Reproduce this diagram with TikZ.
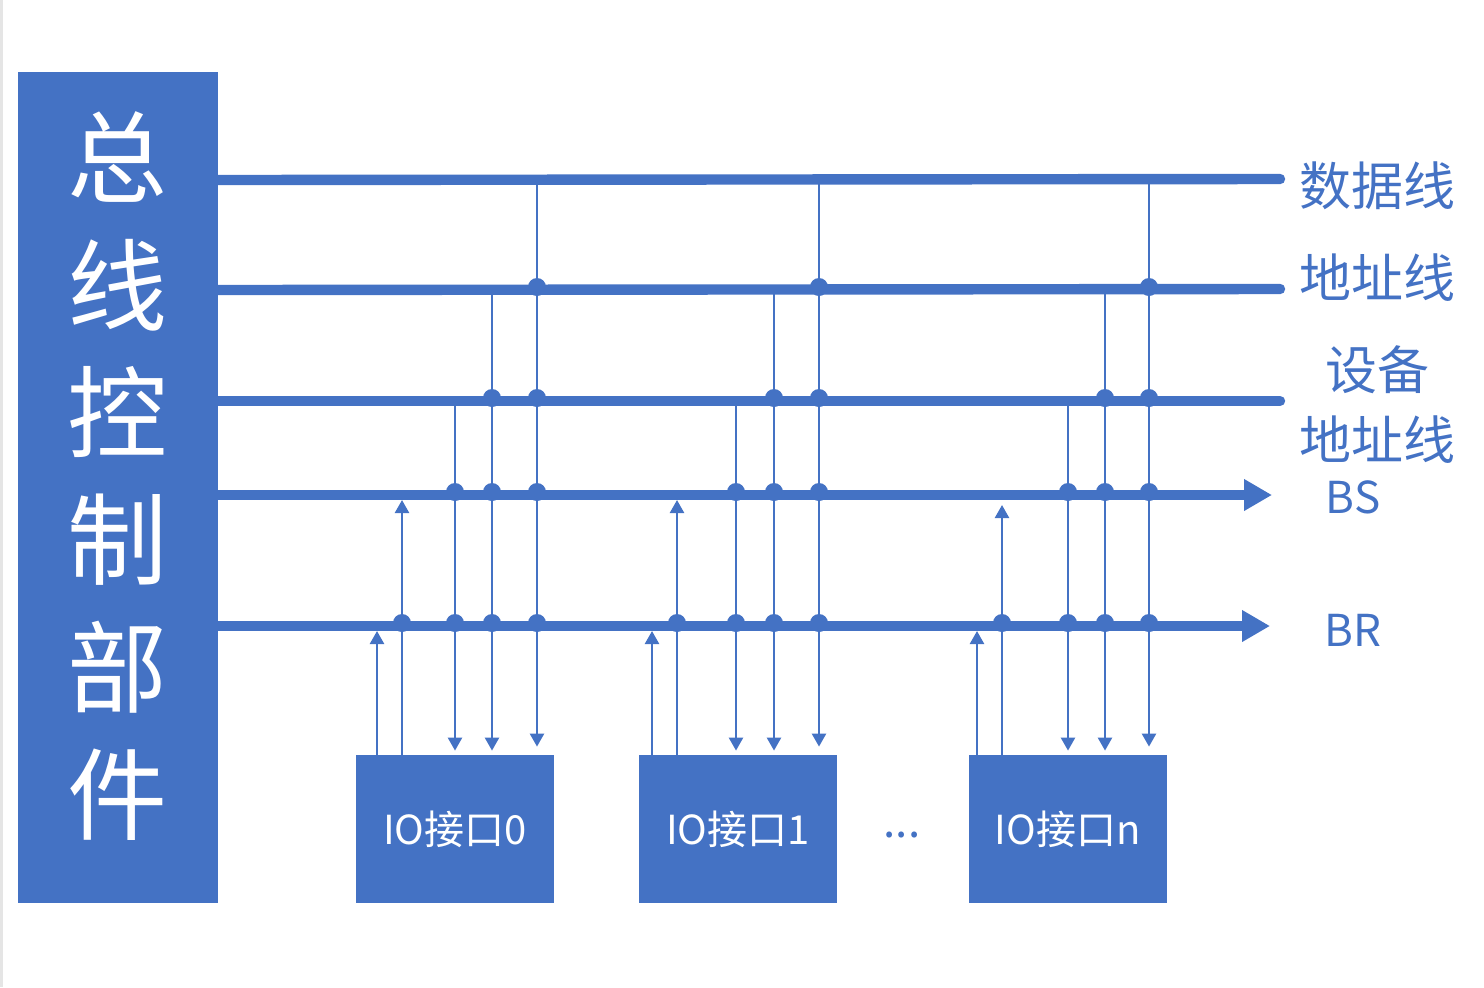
\documentclass[tikz,border=0pt]{standalone}
\usepackage{fontspec}
\setmainfont{Noto Sans CJK SC}
\usetikzlibrary{arrows.meta,calc}
\definecolor{ablue}{HTML}{4472C4}
\begin{document}
\begin{tikzpicture}[x=0.5pt,y=-0.5pt,
  bus/.style={ablue,line width=5.2pt},
  sig/.style={ablue,line width=1.2pt},
  tipd/.style={-{Triangle[length=6.5pt,width=7pt]}},
  jdot/.style={fill=ablue},
  iobox/.style={fill=ablue,draw=none,minimum width=99pt,minimum height=74pt,inner sep=0pt,text=white,font=\fontsize{20}{22}\selectfont},
  lbl/.style={text=ablue,font=\fontsize{26}{28}\selectfont,inner sep=0pt},
  lat/.style={text=ablue,font=\fontsize{22}{24}\selectfont,inner sep=0pt},
  big/.style={text=white,font=\fontsize{50}{54}\selectfont,inner sep=0pt}]
\useasboundingbox (0,0) rectangle (1484,987);
\fill[black!10] (0,0) rectangle (3,987);

% bus control unit
\node[fill=ablue,minimum width=100pt,minimum height=415.5pt,inner sep=0pt] (ctrl) at (118,487.5) {};
\node[big] (t1) at (118,157) {总};
\node[big] (t2) at (118,285) {线};
\node[big] (t3) at (118,412) {控};
\node[big] (t4) at (118,540) {制};
\node[big] (t5) at (118,667) {部};
\node[big] (t6) at (118,795) {件};

% bus coordinates
\coordinate (dat) at (218,180);
\coordinate (adr) at (218,290);
\coordinate (dev) at (218,401);
\coordinate (bs)  at (218,495);
\coordinate (br)  at (218,626);
\coordinate (bsB) at (218,500);
\coordinate (brB) at (218,631);
\coordinate (datE) at (1280,179);
\coordinate (adrE) at (1280,289);
\coordinate (devE) at (1280,401);
\coordinate (bsE) at (1272,495);
\coordinate (brE) at (1270,626);

\draw[bus,line cap=round] (dat) -- (datE);
\draw[bus,line cap=round] (adr) -- (adrE);
\draw[bus,line cap=round] (dev) -- (devE);
\draw[bus,-{Triangle[length=14pt,width=15pt]}] (bs) -- (bsE);
\draw[bus,-{Triangle[length=14pt,width=15pt]}] (br) -- (brE);

% labels
\node[lbl] (ldat) at (1377,186) {数据线};
\node[lbl] (ladr) at (1377,278) {地址线};
\node[lbl] (ldev1) at (1377,370) {设备};
\node[lbl] (ldev2) at (1377,440) {地址线};
\node[lat] (lbs) at (1353,497) {BS};
\node[lat] (lbr) at (1353,630) {BR};

% IO boxes
\node[iobox] (io0) at (455,829) {IO接口0};
\node[iobox] (io1) at (738,829) {IO接口1};
\node[iobox] (ion) at (1067.5,829) {IO接口n};
\node[text=ablue,font=\fontsize{22}{24}\selectfont,inner sep=0pt] (dots) at (902,835) {...};

% signal lines
\foreach \g/\a/\b/\c/\d/\e/\bt in {0/377/402/455/492/537/500, 1/652/677/736/774/819/500, n/977/1002/1068/1105/1149/505} {
  \draw[sig,tipd] (io\g.north -| \a,0) -- (brB -| \a,0);
  \draw[sig,tipd] (io\g.north -| \b,0) -- (218,\bt -| \b,0);
  \draw[sig,tipd] (dev -| \c,0) -- ($(io\g.north -| \c,0)+(0,-4)$);
  \draw[sig,tipd] (adr -| \d,0) -- ($(io\g.north -| \d,0)+(0,-4)$);
  \draw[sig,tipd] (dat -| \e,0) -- ($(io\g.north -| \e,0)+(0,-8)$);
  \foreach \p/\q in {br/\b, br/\c, bs/\c, br/\d, bs/\d, dev/\d, br/\e, bs/\e, dev/\e, adr/\e}
    \fill[jdot] ($(\p -| \q,0)+(0,-3)$) circle[radius=4.5pt];
}
\end{tikzpicture}
\end{document}
